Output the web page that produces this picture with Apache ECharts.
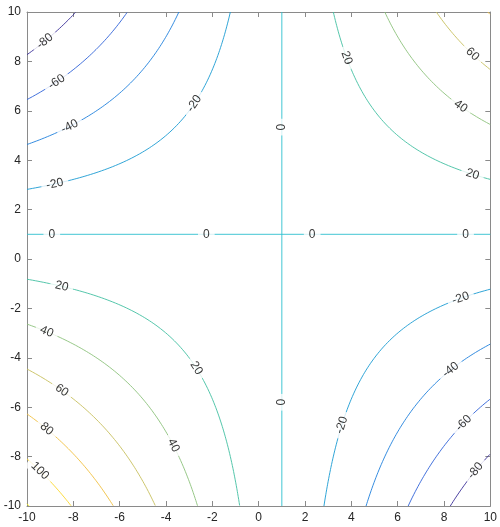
<!DOCTYPE html>
<html><head><meta charset="utf-8">
<script src="https://cdn.jsdelivr.net/npm/echarts@6/dist/echarts.min.js"></script>
<style>html,body{margin:0;background:#fff}#c{width:500px;height:527px}</style>
</head><body><div id="c"></div>
<script>
// Surface shown: z = (x-1)*(y-1) on [-10,10] x [-10,10]
const xRange = [-10, 10];
const yRange = [-10, 10];
const tickStep = 2;
const levels = [-80, -60, -40, -20, 0, 20, 40, 60, 80, 100, 120];
const levelColors = ['#3a2f99', '#2f62d8', '#1f80dc', '#1a9bd2', '#2cc0cf', '#42c0a2', '#8cc27c', '#c7bf5e', '#f0c040', '#fbd72a', '#f5f010'];
// contour label anchors: [level, x]
const labelSpots = [
  [-80, -9.23], [-80, 9.36], [-60, -8.72], [-60, 8.85], [-40, -8.16], [-40, 8.29],
  [-20, -8.8], [-20, -2.78], [-20, 8.72], [-20, 3.59],
  [20, -8.5], [20, -2.69], [20, 3.8], [20, 9.23],
  [40, -9.15], [40, -3.68], [40, 8.72], [60, -8.5], [60, 9.23], [80, -9.15], [100, -9.44]
];
const zeroLabelsX = [-8.93, -2.26, 2.31, 8.93];
const zeroLabelsY = [5.34, -5.8];

function surface(x, y) { return (x - 1) * (y - 1); }

function inBox(x, y) { return x >= xRange[0] - 1e-9 && x <= xRange[1] + 1e-9 && y >= yRange[0] - 1e-9 && y <= yRange[1] + 1e-9; }

// Contour level c of the surface: (x-1)(y-1)=c
function branches(c) {
  if (c === 0) {
    return [[[xRange[0], 1], [xRange[1], 1]], [[1, yRange[0]], [1, yRange[1]]]];
  }
  const out = [];
  [-1, 1].forEach(side => {
    const pts = [];
    for (let x = xRange[0]; x <= xRange[1] + 1e-9; x += 0.02) {
      if ((x - 1) * side <= 0) continue;
      const y = 1 + c / (x - 1);
      if (inBox(x, y)) pts.push([x, y]);
    }
    for (let y = yRange[0]; y <= yRange[1] + 1e-9; y += 0.02) {
      if (Math.abs(y - 1) < 1e-9) continue;
      const x = 1 + c / (y - 1);
      if ((x - 1) * side <= 0) continue;
      if (inBox(x, y)) pts.push([x, y]);
    }
    pts.sort((a, b) => a[0] - b[0]);
    if (pts.length > 1) out.push(pts);
  });
  return out;
}

const chart = echarts.init(document.getElementById('c'), null, { renderer: 'canvas' });
const grid = { left: 27, right: 5, top: 12, bottom: 21 };
const gw = 500 - grid.left - grid.right, gh = 527 - grid.top - grid.bottom;
const kx = gw / (xRange[1] - xRange[0]), ky = gh / (yRange[1] - yRange[0]);

const series = [];
levels.forEach((c, i) => {
  branches(c).forEach(pts => {
    series.push({
      type: 'line', data: pts, showSymbol: false, symbol: 'none', silent: true,
      lineStyle: { color: levelColors[i], width: 0.9 }, z: 2, animation: false
    });
  });
});

const labelData = [];
labelSpots.forEach(([c, x]) => {
  const y = 1 + c / (x - 1);
  const slope = -c / ((x - 1) * (x - 1));
  const ang = Math.atan(slope * ky / kx) * 180 / Math.PI;
  labelData.push({ value: [x, y], name: String(c), label: { rotate: ang } });
});
zeroLabelsX.forEach(x => labelData.push({ value: [x, 1], name: '0', label: { rotate: 0 } }));
zeroLabelsY.forEach(y => labelData.push({ value: [1, y], name: '0', label: { rotate: 90 } }));

series.push({
  type: 'scatter', data: labelData, symbolSize: 1, itemStyle: { color: 'rgba(0,0,0,0)' }, silent: true, z: 10, animation: false,
  labelLayout: { hideOverlap: false },
  label: {
    show: true, position: 'inside', formatter: p => p.name, color: '#000', fontSize: 12,
    fontFamily: 'Liberation Sans, Arial, sans-serif', backgroundColor: '#fff', padding: [1, 5]
  }
});

const axisCommon = {
  type: 'value', interval: tickStep, splitLine: { show: false },
  axisLine: { show: true, onZero: false, lineStyle: { color: '#8a8a8a', width: 1 } },
  axisTick: { show: true, inside: true, length: 5, lineStyle: { color: '#8a8a8a' } }
};
const lbl = { color: '#262626', fontSize: 12, fontFamily: 'Liberation Sans, Arial, sans-serif' };

chart.setOption({
  animation: false,
  grid: grid,
  xAxis: [
    Object.assign({}, axisCommon, { min: xRange[0], max: xRange[1], position: 'bottom', axisLabel: Object.assign({ margin: 6 }, lbl) }),
    Object.assign({}, axisCommon, { min: xRange[0], max: xRange[1], position: 'top', axisLabel: { show: false } })
  ],
  yAxis: [
    Object.assign({}, axisCommon, { min: yRange[0], max: yRange[1], position: 'left', axisLabel: Object.assign({ margin: 6 }, lbl) }),
    Object.assign({}, axisCommon, { min: yRange[0], max: yRange[1], position: 'right', axisLabel: { show: false } })
  ],
  series: series
});
</script></body></html>
